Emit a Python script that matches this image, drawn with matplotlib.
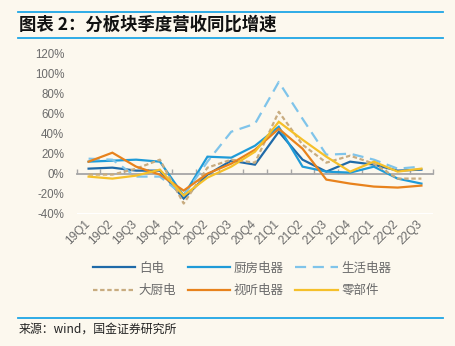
import matplotlib
matplotlib.use("Agg")
import matplotlib.pyplot as plt
from matplotlib.lines import Line2D
import numpy as np

plt.rcParams['font.family'] = ['Noto Sans CJK SC', 'DejaVu Sans']

# === DATA: 同比增速 (%) ===
quarters = ['19Q1', '19Q2', '19Q3', '19Q4', '20Q1', '20Q2', '20Q3', '20Q4',
            '21Q1', '21Q2', '21Q3', '21Q4', '22Q1', '22Q2', '22Q3']
bai_dian = [5, 6, 3, 3, -25, -1, 13, 9, 42, 14, 2, 12, 9, 3, 4]
chu_fang = [12, 13, 14, 12, -22, 17, 16, 28, 47, 7, 2, 1, 7, -5, -10]
sheng_huo = [15, 14, -3, -3, -22, 12, 42, 50, 92, 55, 19, 20, 14, 5, 7]
da_chu = [-1, -1, 5, 14, -30, 6, 14, 11, 62, 29, 11, 18, 10, -5, -5]
shi_ting = [12, 21, 7, -1, -17, 0, 10, 24, 45, 25, -6, -10, -13, -14, -12]
ling_bu_jian = [-3, -5, -2, 4, -22, -4, 7, 22, 52, 34, 17, 2, 12, 2, 5]

series_names = ['白电', '厨房电器', '生活电器', '大厨电', '视听电器', '零部件']
yticks = [-40, -20, 0, 20, 40, 60, 80, 100, 120]

# === STYLE ===
BG = '#fcf8ee'
BLUE_RULE = '#1ea6e6'
GRAY_TXT = '#6b6b6b'
AXIS_GRAY = '#a6a6a6'

styles = [
    dict(color='#1f6aa8', ls='-'),
    dict(color='#1f9bd8', ls='-'),
    dict(color='#7fc4ea', ls=(0, (5, 3))),
    dict(color='#c8ac80', ls=(0, (2, 1.2))),
    dict(color='#e8821c', ls='-'),
    dict(color='#f5c02a', ls='-'),
]

fig = plt.figure(figsize=(4.56, 3.46), dpi=100, facecolor=BG)
W, H = 456, 346

def fx(px):
    return px / W

def fy(py):
    return 1 - py / H

# header and footer rules
for y in (12.3, 37.7, 318.3):
    fig.add_artist(Line2D([fx(18), fx(443)], [fy(y), fy(y)],
                          transform=fig.transFigure, color=BLUE_RULE, lw=1.3))

fig.text(fx(19), fy(25), '图表 2：分板块季度营收同比增速', fontsize=12.5,
         fontweight='bold', color='#111111', va='center', ha='left',
         fontstyle='italic')
fig.text(fx(19), fy(329), '来源：wind，国金证券研究所', fontsize=8.6,
         color='#222222', va='center', ha='left')

# === PLOT ===
ax = fig.add_axes([fx(76.7), fy(213.5), fx(433.3) - fx(76.7), fy(54) - fy(213.5)])
ax.set_facecolor(BG)

x = np.arange(len(quarters))
data = [bai_dian, chu_fang, sheng_huo, da_chu, shi_ting, ling_bu_jian]
handles = []
for vals, name, st in zip(data, series_names, styles):
    h, = ax.plot(x, vals, color=st['color'], linestyle=st['ls'], lw=1.6,
                 label=name, solid_joinstyle='miter')
    handles.append(h)

ax.set_xlim(-0.5, len(quarters) - 0.5)
ax.set_ylim(-40, 120)
ax.set_yticks(yticks)
ax.set_yticklabels([f'{v}%' for v in yticks], fontfamily='Liberation Sans',
                   fontsize=8.3, color=GRAY_TXT)
ax.tick_params(axis='y', length=0, pad=9)

for s in ('left', 'right', 'top'):
    ax.spines[s].set_visible(False)
ax.spines['bottom'].set_position(('data', 0))
ax.spines['bottom'].set_color(AXIS_GRAY)
ax.spines['bottom'].set_linewidth(1.3)
ax.spines['bottom'].set_zorder(0.5)
ax.set_xticks(np.arange(-0.5, len(quarters), 1.0))
ax.set_xticklabels([])
ax.tick_params(axis='x', direction='in', length=3.5, width=1, color=AXIS_GRAY)

# category labels along the bottom edge
sec = ax.secondary_xaxis('bottom')
sec.set_xticks(x + 0.15)
sec.set_xticklabels(quarters, rotation=45, ha='right', fontfamily='Liberation Sans',
                    fontsize=8.6, color=GRAY_TXT)
sec.tick_params(length=0, pad=3)
sec.spines['bottom'].set_visible(False)

# legend: rows are 白电/厨房电器/生活电器 and 大厨电/视听电器/零部件
order = [0, 3, 1, 4, 2, 5]
leg = fig.legend([handles[i] for i in order], [series_names[i] for i in order],
                 ncol=3, loc='center', bbox_to_anchor=(fx(242), fy(279.5)),
                 frameon=False, fontsize=9, handlelength=3.4, handletextpad=0.3,
                 columnspacing=0.9, labelspacing=0.75, borderpad=0)
for t in leg.get_texts():
    t.set_color(GRAY_TXT)

fig.savefig('out.png', dpi=100, facecolor=BG)
